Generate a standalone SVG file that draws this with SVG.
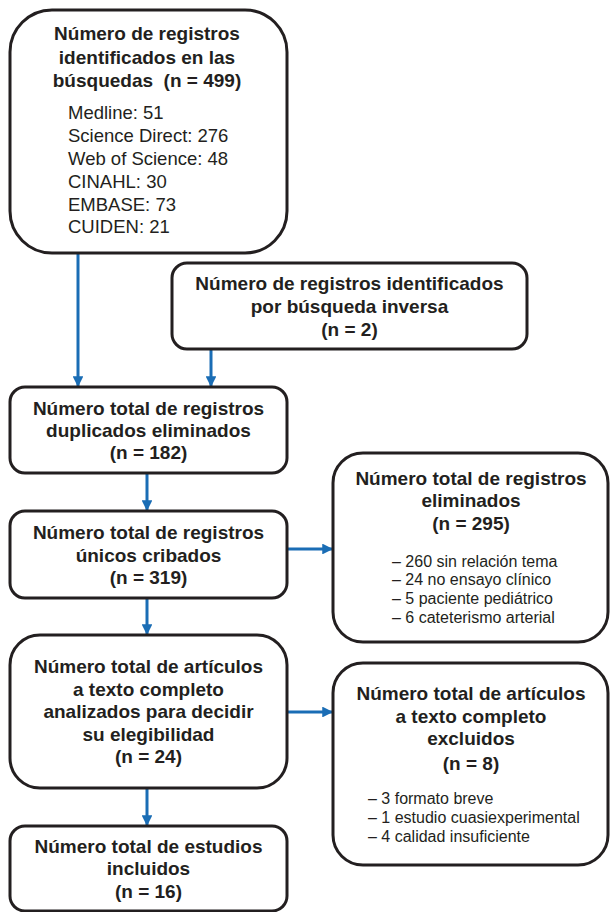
<svg xmlns="http://www.w3.org/2000/svg" width="610" height="912" viewBox="0 0 610 912">
<defs>
<style>
.box{fill:#fff;stroke:#231f20;stroke-width:3}
.t{font-family:"Liberation Sans",Arial,sans-serif;font-weight:bold;font-size:19px;fill:#231f20;text-anchor:middle}
.l{font-family:"Liberation Sans",Arial,sans-serif;font-size:18.5px;fill:#231f20}
.s{font-family:"Liberation Sans",Arial,sans-serif;font-size:16px;fill:#231f20}
.c{stroke:#1a6db5;stroke-width:3;fill:none}
</style>
<marker id="ah" viewBox="0 0 10 10" refX="9" refY="5" markerWidth="3.6" markerHeight="3.6" orient="auto" markerUnits="strokeWidth">
<path d="M0,0 L10,5 L0,10 z" fill="#1a6db5"/>
</marker>
</defs>
<g id="connectors">
<line class="c" x1="78" y1="254" x2="78" y2="386" marker-end="url(#ah)"/>
<line class="c" x1="211" y1="350" x2="211" y2="386" marker-end="url(#ah)"/>
<line class="c" x1="147" y1="474" x2="147" y2="510" marker-end="url(#ah)"/>
<line class="c" x1="288" y1="549" x2="332" y2="549" marker-end="url(#ah)"/>
<line class="c" x1="147" y1="599" x2="147" y2="634" marker-end="url(#ah)"/>
<line class="c" x1="288" y1="712" x2="332" y2="712" marker-end="url(#ah)"/>
<line class="c" x1="147" y1="789" x2="147" y2="825" marker-end="url(#ah)"/>
</g>
<g id="n1">
<rect class="box" x="10" y="10" width="277" height="243" rx="42"/>
<text class="t" x="147" y="40">Número de registros</text>
<text class="t" x="147" y="64">identificados en las</text>
<text class="t" x="147" y="87" xml:space="preserve">búsquedas  (n = 499)</text>
<text class="l" x="68" y="119">Medline: 51</text>
<text class="l" x="68" y="142">Science Direct: 276</text>
<text class="l" x="68" y="165">Web of Science: 48</text>
<text class="l" x="68" y="188">CINAHL: 30</text>
<text class="l" x="68" y="211">EMBASE: 73</text>
<text class="l" x="68" y="233">CUIDEN: 21</text>
</g>
<g id="n2">
<rect class="box" x="172" y="263" width="355" height="86" rx="15"/>
<text class="t" x="349.5" y="290">Número de registros identificados</text>
<text class="t" x="349.5" y="313">por búsqueda inversa</text>
<text class="t" x="349.5" y="336">(n = 2)</text>
</g>
<g id="n3">
<rect class="box" x="10" y="387" width="277" height="86" rx="15"/>
<text class="t" x="148.5" y="415">Número total de registros</text>
<text class="t" x="148.5" y="437">duplicados eliminados</text>
<text class="t" x="148.5" y="459">(n = 182)</text>
</g>
<g id="n4">
<rect class="box" x="10" y="511" width="277" height="87" rx="15"/>
<text class="t" x="148.5" y="539">Número total de registros</text>
<text class="t" x="148.5" y="562">únicos cribados</text>
<text class="t" x="148.5" y="584">(n = 319)</text>
</g>
<g id="n5">
<rect class="box" x="10" y="635" width="277" height="153" rx="30"/>
<text class="t" x="148.5" y="673">Número total de artículos</text>
<text class="t" x="148.5" y="696">a texto completo</text>
<text class="t" x="148.5" y="718">analizados para decidir</text>
<text class="t" x="148.5" y="741">su elegibilidad</text>
<text class="t" x="148.5" y="763">(n = 24)</text>
</g>
<g id="n6">
<rect class="box" x="10" y="826" width="277" height="85" rx="15"/>
<text class="t" x="148.5" y="853">Número total de estudios</text>
<text class="t" x="148.5" y="875">incluidos</text>
<text class="t" x="148.5" y="898">(n = 16)</text>
</g>
<g id="nA">
<rect class="box" x="333" y="453" width="275" height="189" rx="30"/>
<text class="t" x="471" y="485">Número total de registros</text>
<text class="t" x="471" y="507">eliminados</text>
<text class="t" x="471" y="530">(n = 295)</text>
<text class="s" x="392" y="567">– 260 sin relación tema</text>
<text class="s" x="392" y="585">– 24 no ensayo clínico</text>
<text class="s" x="392" y="604">– 5 paciente pediátrico</text>
<text class="s" x="392" y="623">– 6 cateterismo arterial</text>
</g>
<g id="nB">
<rect class="box" x="333" y="663" width="275" height="202" rx="30"/>
<text class="t" x="471" y="700">Número total de artículos</text>
<text class="t" x="471" y="723">a texto completo</text>
<text class="t" x="471" y="745">excluidos</text>
<text class="t" x="471" y="770">(n = 8)</text>
<text class="s" x="368" y="804">– 3 formato breve</text>
<text class="s" x="368" y="823">– 1 estudio cuasiexperimental</text>
<text class="s" x="368" y="842">– 4 calidad insuficiente</text>
</g>
</svg>
